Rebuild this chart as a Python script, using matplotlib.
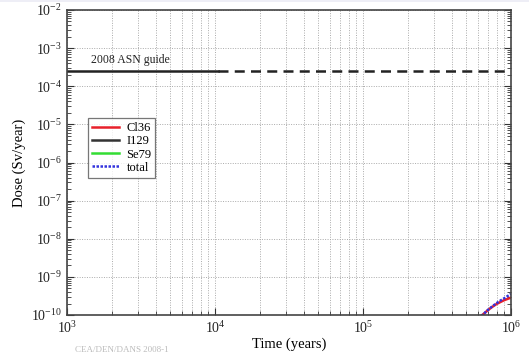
import matplotlib
matplotlib.use("Agg")
import matplotlib.pyplot as plt
import numpy as np
from matplotlib.ticker import LogLocator, NullFormatter

plt.rcParams['font.family'] = ['Liberation Serif', 'DejaVu Serif']
plt.rcParams['mathtext.fontset'] = 'custom'
plt.rcParams['mathtext.rm'] = 'Liberation Serif'
plt.rcParams['mathtext.it'] = 'Liberation Serif:italic'

# Data
time = [6.0e5, 6.5e5, 7.0e5, 7.5e5, 8.0e5, 8.5e5, 9.0e5, 9.5e5, 1.0e6]
cl36 = [0.80e-10, 1.05e-10, 1.35e-10, 1.65e-10, 1.95e-10, 2.20e-10, 2.45e-10, 2.65e-10, 2.85e-10]
i129 = [0.0, 0.0, 0.02e-10, 0.05e-10, 0.10e-10, 0.20e-10, 0.30e-10, 0.50e-10, 0.75e-10]
se79 = [0.0, 0.0, 0.0, 0.0, 0.0, 0.0, 0.0, 0.0, 0.0]
total = [a + b + c for a, b, c in zip(cl36, i129, se79)]

guide_value = 2.5e-4
guide_solid_x = [1e3, 1.05e4]
guide_dash_x = [1.05e4, 1e6]

fig = plt.figure(figsize=(5.29, 3.61), dpi=100)
ax = fig.add_axes([67/529, 1 - 315/361, (511 - 67)/529, (315 - 10)/361])

ax.set_xscale('log')
ax.set_yscale('log')
ax.set_xlim(1e3, 1e6)
ax.set_ylim(1e-10, 1e-2)

ax.plot(time, cl36, color='#e8202a', lw=1.8, label='Cl36')
ax.plot(time, np.where(np.array(i129) > 0, i129, np.nan), color='#333333', lw=1.8, label='I129')
ax.plot(time, np.where(np.array(se79) > 0, se79, np.nan), color='#33dd33', lw=1.8, label='Se79')
ax.plot(time, total, color='#3333dd', lw=1.8, ls=(0, (1, 0.6)), label='total')

ax.plot(guide_solid_x, [guide_value]*2, color='#222222', lw=1.8)
ax.plot(guide_dash_x, [guide_value]*2, color='#222222', lw=1.8, ls=(0, (4, 2.5)))
ax.text(1.45e3, 4.0e-4, '2008 ASN guide', fontsize=8.5, color='#222222')

ax.xaxis.set_major_locator(LogLocator(base=10, numticks=10))
ax.xaxis.set_minor_locator(LogLocator(base=10, subs=np.arange(2, 10), numticks=10))
ax.yaxis.set_major_locator(LogLocator(base=10, numticks=20))
ax.yaxis.set_minor_locator(LogLocator(base=10, subs=np.arange(2, 10), numticks=20))
ax.xaxis.set_minor_formatter(NullFormatter())
ax.yaxis.set_minor_formatter(NullFormatter())

ax.grid(True, which='major', axis='both', color='#aaaaaa', ls=(0, (1, 1.5)), lw=0.7)
ax.grid(True, which='minor', axis='x', color='#aaaaaa', ls=(0, (1, 1.5)), lw=0.7)

ax.tick_params(which='both', direction='in', top=False, right=True, colors='#333333', labelcolor='#222222', labelsize=10)
ax.tick_params(which='major', length=5)
ax.tick_params(which='minor', length=3)
for s in ax.spines.values():
    s.set_color('#444444')
    s.set_linewidth(1.2)

ax.set_xlabel('Time (years)', fontsize=10.5, labelpad=1)
ax.set_ylabel('Dose (Sv/year)', fontsize=10.5, labelpad=4)

leg = ax.legend(loc='upper left', bbox_to_anchor=(0.047, 0.645), fontsize=9,
                frameon=True, fancybox=False, edgecolor='#555555',
                handlelength=2.2, handletextpad=0.6, borderpad=0.3,
                labelspacing=0.1, borderaxespad=0)
leg.get_frame().set_linewidth(0.9)

fig.text(75/529, 1 - 350/361, 'CEA/DEN/DANS 2008-1', fontsize=6.5, color='#bbbbbb', va='center')
fig.add_artist(plt.Rectangle((0, 1 - 2/361), 1, 2/361, transform=fig.transFigure,
                             color='#eeeef6', lw=0))

fig.savefig('out.png', dpi=100)
